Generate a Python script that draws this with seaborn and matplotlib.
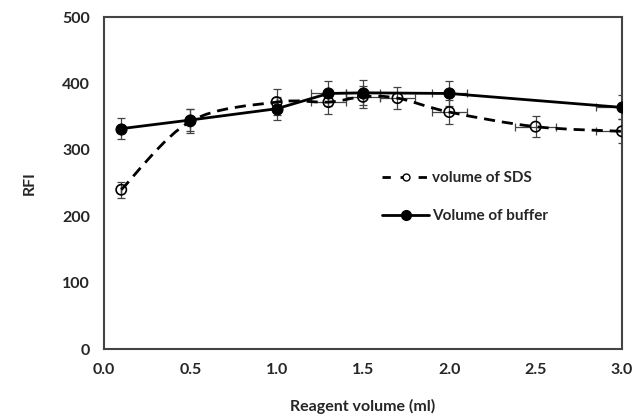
import numpy as np
import pandas as pd
import matplotlib
matplotlib.use("Agg")
import matplotlib.pyplot as plt
from matplotlib.path import Path
from matplotlib.patches import PathPatch
from matplotlib.lines import Line2D
import seaborn as sns

# Data
sds_x = [0.1, 0.5, 1.0, 1.3, 1.5, 1.7, 2.0, 2.5, 3.0]
sds_y = [240, 343, 372, 372, 380, 378, 357, 335, 328]
sds_yerr = [12, 18, 20, 18, 17, 17, 18, 16, 18]
sds_xerr = [0, 0, 0, 0.1, 0.1, 0.1, 0.1, 0.12, 0.15]

buf_x = [0.1, 0.5, 1.0, 1.3, 1.5, 2.0, 3.0]
buf_y = [332, 345, 362, 385, 386, 385, 364]
buf_yerr = [16, 17, 17, 19, 19, 19, 18]
buf_xerr = [0, 0, 0, 0.1, 0.1, 0.1, 0.15]

xticks = [0.0, 0.5, 1.0, 1.5, 2.0, 2.5, 3.0]
yticks = [0, 100, 200, 300, 400, 500]

sns.set_theme(style="white")
plt.rcParams['font.family'] = ['Lato', 'DejaVu Sans']

fig = plt.figure(figsize=(6.34, 4.18), dpi=100)
ax = fig.add_axes([0.164, 0.165, 0.817, 0.794])

df_buf = pd.DataFrame({"x": buf_x, "y": buf_y})
df_sds = pd.DataFrame({"x": sds_x, "y": sds_y})

# error bars
ax.errorbar(sds_x, sds_y, yerr=sds_yerr, xerr=sds_xerr, fmt='none',
            ecolor='#444444', elinewidth=0.9, capsize=3, capthick=0.9, zorder=2)
ax.errorbar(buf_x, buf_y, yerr=buf_yerr, xerr=buf_xerr, fmt='none',
            ecolor='#444444', elinewidth=0.9, capsize=3, capthick=0.9, zorder=2)

# smoothed dashed SDS curve (Catmull-Rom style Bezier through the data points)
pts = np.column_stack([sds_x, sds_y]).astype(float)
verts = [pts[0]]
codes = [Path.MOVETO]
n = len(pts)
for i in range(n - 1):
    p0 = pts[i - 1] if i > 0 else pts[i]
    p1 = pts[i]
    p2 = pts[i + 1]
    p3 = pts[i + 2] if i + 2 < n else pts[i + 1]
    c1 = p1 + (p2 - p0) / 6.0
    c2 = p2 - (p3 - p1) / 6.0
    verts += [c1, c2, p2]
    codes += [Path.CURVE4] * 3
patch = PathPatch(Path(verts, codes), fill=False, edgecolor='black', lw=2.0,
                  linestyle=(0, (4, 2.5)), zorder=3)
ax.add_patch(patch)

sns.lineplot(data=df_buf, x="x", y="y", ax=ax, color='black', lw=2.0,
             marker='o', markersize=8, markerfacecolor='black',
             markeredgecolor='black', zorder=4, legend=False)
sns.scatterplot(data=df_sds, x="x", y="y", ax=ax, s=55, facecolor='none',
                edgecolor='black', linewidth=1.2, zorder=5, legend=False)

ax.set_xlim(0, 3.0)
ax.set_ylim(0, 500)
ax.set_xticks(xticks)
ax.set_yticks(yticks)
ax.set_xticklabels([f"{v:.1f}" for v in xticks], fontweight='bold', fontsize=11.5)
ax.set_yticklabels([str(v) for v in yticks], fontweight='bold', fontsize=11.5)
ax.tick_params(axis='both', length=0)
ax.tick_params(axis='y', pad=10)
ax.tick_params(axis='x', pad=10)
for s in ax.spines.values():
    s.set_color('#444444')
    s.set_linewidth(1.5)
ax.set_xlabel("Reagent volume (ml)", fontweight='bold', fontsize=11.5, labelpad=16)
ax.set_ylabel("RFI", fontweight='bold', fontsize=11.5, labelpad=18)

handles = [
    Line2D([0], [0], color='black', lw=2, linestyle=(0, (3, 3.5)), marker='o',
           markersize=5, markerfacecolor='white', markeredgecolor='black'),
    Line2D([0], [0], color='black', lw=2, marker='o', markersize=7,
           markerfacecolor='black', markeredgecolor='black'),
]
leg = ax.legend(handles, ["volume of SDS", "Volume of buffer"],
                loc='upper left', bbox_to_anchor=(0.51, 0.578), frameon=False,
                prop={'weight': 'bold', 'size': 11}, handlelength=3.1,
                handletextpad=0.2, labelspacing=1.6)

fig.savefig("out.png", dpi=100)
